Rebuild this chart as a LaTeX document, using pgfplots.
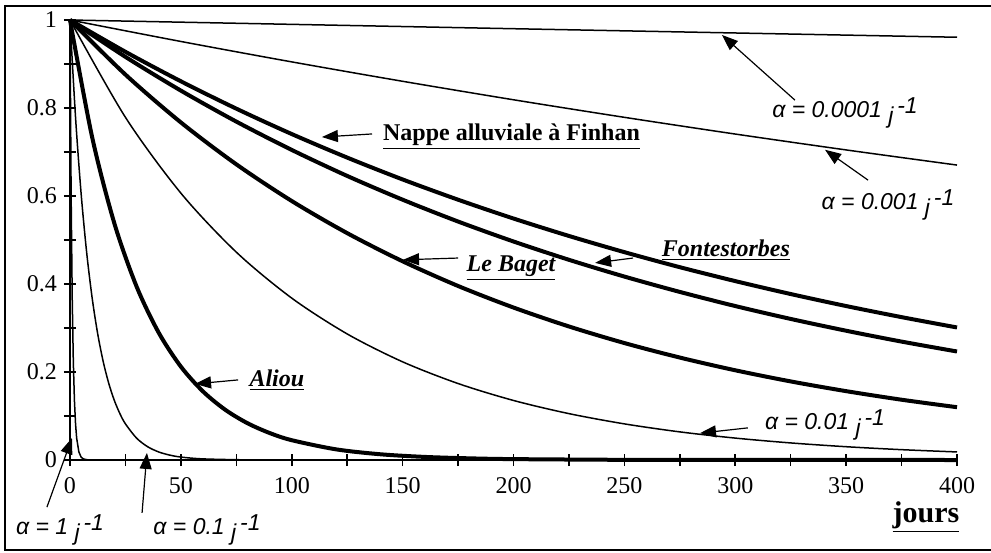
\documentclass[border=0pt]{standalone}
\usepackage{fontspec}
\setmainfont{Liberation Serif}
\newfontfamily\arial{Liberation Sans}
\usepackage{pgfplots}
\pgfplotsset{compat=1.18}
\usetikzlibrary{arrows.meta}
\newcommand{\alab}[1]{{\arial\itshape\fontsize{11.5}{13}\selectfont α = #1 \raisebox{-0.5ex}{j}\,\raisebox{0.35ex}{-1}}}
\newcommand{\nlab}[1]{{\fontsize{12}{14}\selectfont\bfseries\underline{#1}}}
\newcommand{\ilab}[1]{{\fontsize{12}{14}\selectfont\bfseries\itshape\underline{#1}}}
\begin{document}
\begin{tikzpicture}
\useasboundingbox (-35pt,-46pt) rectangle (460.5pt,230pt);
\begin{axis}[
  at={(0,0)}, anchor=south west,
  scale only axis, width=443.5pt, height=220pt,
  xmin=0, xmax=400, ymin=0, ymax=1,
  axis lines*=left,
  axis line style={line width=1.1pt},
  xtick={0,50,...,400}, minor xtick={25,75,...,375},
  ytick={0,0.2,...,1.01}, minor ytick={0.1,0.3,...,0.95},
  yticklabels={0,0.2,0.4,0.6,0.8,1},
  tick align=center,
  major tick length=6pt, minor tick length=6pt,
  every tick/.style={black, line width=0.8pt},
  /pgf/number format/assume math mode=true,
  tick label style={font=\fontsize{12}{14}\selectfont},
  xticklabel style={yshift=-2pt},
  clip=false,
  every axis plot/.append style={black},
]
% alpha = 0.0001
\addplot[line width=0.75pt] coordinates {(0,1) (200,0.9802) (400,0.9608)};
% alpha = 0.001
\addplot[line width=0.75pt, smooth] coordinates {(0,1) (50,0.9512) (100,0.9048) (150,0.8607) (200,0.8187) (250,0.7788) (300,0.7408) (350,0.7047) (400,0.6703)};
% alpha = 0.01
\addplot[line width=0.75pt, smooth] coordinates {(0,1) (25,0.7788) (50,0.6065) (75,0.4724) (100,0.3679) (125,0.2865) (150,0.2231) (175,0.1738) (200,0.1353) (225,0.1054) (250,0.0821) (275,0.0639) (300,0.0498) (325,0.0388) (350,0.0302) (375,0.0235) (400,0.0183)};
% alpha = 0.1
\addplot[line width=0.75pt, smooth] coordinates {(0,1) (2.5,0.7788) (5,0.6065) (7.5,0.4724) (10,0.3679) (12.5,0.2865) (15,0.2231) (17.5,0.1738) (20,0.1353) (22.5,0.1054) (25,0.0821) (30,0.0498) (35,0.0302) (40,0.0183) (45,0.0111) (50,0.0067) (60,0.0025) (80,0.0003) (100,0)};
\addplot[line width=0.75pt] coordinates {(100,0) (400,0)};
% alpha = 1
\addplot[line width=0.75pt] coordinates {(0,1) (0.5,0.6065) (1,0.3679) (1.5,0.2231) (2,0.1353) (2.5,0.0821) (3,0.0498) (4,0.0183) (5,0.0067) (6,0.0025) (8,0.0003) (10,0) (400,0)};
% Aliou
\addplot[line width=2pt, smooth] coordinates {(0,1) (10,0.7334) (20,0.5379) (30,0.3946) (40,0.2894) (50,0.2122) (60,0.1557) (70,0.1142) (80,0.0837) (90,0.0614) (100,0.0450) (120,0.0242) (140,0.0130) (160,0.0070) (180,0.0038) (200,0.0020) (250,0.0004) (300,0.0001) (400,0)};
% Le Baget
\addplot[line width=2pt, smooth] coordinates {(0,1) (25,0.8759) (50,0.7672) (75,0.6720) (100,0.5886) (125,0.5156) (150,0.4516) (175,0.3955) (200,0.3465) (225,0.3035) (250,0.2658) (275,0.2328) (300,0.2039) (325,0.1786) (350,0.1565) (375,0.1370) (400,0.1200)};
% Fontestorbes
\addplot[line width=2pt, smooth] coordinates {(0,1) (25,0.9162) (50,0.8395) (75,0.7691) (100,0.7047) (125,0.6456) (150,0.5916) (175,0.5420) (200,0.4966) (225,0.4550) (250,0.4169) (275,0.3820) (300,0.3499) (325,0.3206) (350,0.2938) (375,0.2691) (400,0.2466)};
% Nappe alluviale a Finhan
\addplot[line width=2pt, smooth] coordinates {(0,1) (25,0.9277) (50,0.8607) (75,0.7985) (100,0.7408) (125,0.6873) (150,0.6376) (175,0.5916) (200,0.5488) (225,0.5092) (250,0.4724) (275,0.4382) (300,0.4066) (325,0.3772) (350,0.3499) (375,0.3247) (400,0.3012)};
% annotations
\tikzset{ar/.style={-{Triangle[length=8pt,width=6pt]}, line width=0.6pt}}
\draw[ar] (axis cs:326.9,0.818) -- (axis cs:294.0,0.966);
\node at (axis cs:349.5,0.789) {\alab{0.0001}};
\draw[ar] (axis cs:359.9,0.636) -- (axis cs:340.5,0.705);
\node at (axis cs:368.9,0.580) {\alab{0.001}};
\draw[ar] (axis cs:136.2,0.741) -- (axis cs:113.6,0.734);
\node at (axis cs:199.1,0.734) {\nlab{Nappe alluviale à Finhan}};
\draw[ar] (axis cs:175.0,0.459) -- (axis cs:150.2,0.455);
\node at (axis cs:198.9,0.436) {\ilab{Le Baget}};
\draw[ar] (axis cs:253.9,0.459) -- (axis cs:236.8,0.448);
\node at (axis cs:295.8,0.477) {\ilab{Fontestorbes}};
\draw[ar] (axis cs:75.8,0.182) -- (axis cs:56.4,0.173);
\node at (axis cs:93.3,0.182) {\ilab{Aliou}};
\draw[ar] (axis cs:305.7,0.073) -- (axis cs:284.1,0.061);
\node at (axis cs:340.5,0.080) {\alab{0.01}};
\draw[ar] (axis cs:-10.4,-0.107) -- (axis cs:0.9,0.05);
\node at (axis cs:-4.5,-0.159) {\alab{1}};
\draw[ar] (axis cs:32.5,-0.120) -- (axis cs:34.7,0.016);
\node at (axis cs:61.8,-0.159) {\alab{0.1}};
\node at (axis cs:386,-0.13) {{\fontsize{15}{17}\selectfont\bfseries\underline{jours}}};
\end{axis}
\draw[line width=1pt] (461pt,227pt) -- (-32.5pt,227pt);
\draw[line width=0.75pt] (-32.5pt,227.5pt) -- (-32.5pt,-45pt) -- (461pt,-45pt);
\end{tikzpicture}
\end{document}
